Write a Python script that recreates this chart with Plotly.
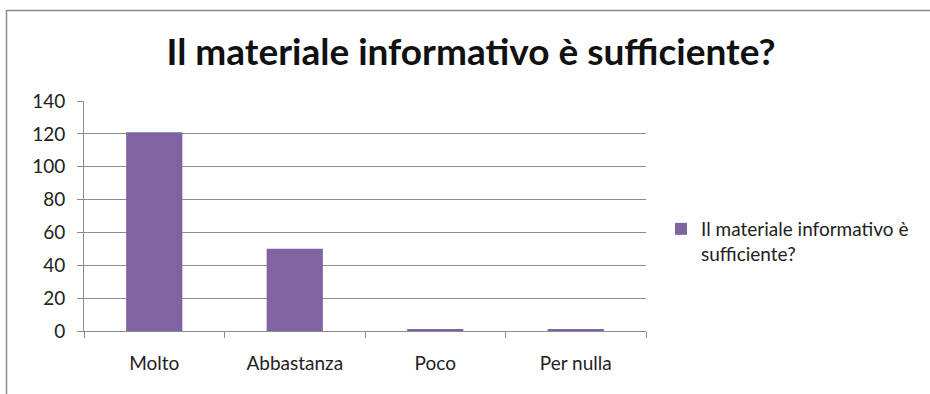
import plotly.graph_objects as go

categories = ["Molto", "Abbastanza", "Poco", "Per nulla"]
values = [121, 50, 1, 1]
series_name = "Il materiale informativo è<br>sufficiente?"
title_text = "Il materiale informativo è sufficiente?"
y_ticks = [0, 20, 40, 60, 80, 100, 120, 140]

purple = "#8064A2"
grid = "#8C8C8C"
font_family = "Lato, Open Sans, sans-serif"

W, H = 930, 394
L, R, T, B = 84, 284, 101, 63
pw, ph = W - L - R, H - T - B

fig = go.Figure(
    go.Bar(
        x=categories,
        y=values,
        name=series_name,
        marker=dict(color=purple, line=dict(width=0)),
        width=0.4,
        showlegend=True,
    )
)

# frame lines (top and left edges)
def px_x(p):
    return (p - L) / pw

def px_y(p):
    return (H - B - p) / ph

fig.add_shape(type="line", xref="paper", yref="paper",
              x0=px_x(6), x1=px_x(935), y0=px_y(10.5), y1=px_y(10.5),
              line=dict(color="#8A8A8A", width=1.5))
fig.add_shape(type="line", xref="paper", yref="paper",
              x0=px_x(6.5), x1=px_x(6.5), y0=px_y(10.5), y1=px_y(400),
              line=dict(color="#8A8A8A", width=1.5))

fig.update_layout(
    width=W, height=H,
    margin=dict(l=L, r=R, t=T, b=B, autoexpand=False),
    paper_bgcolor="white", plot_bgcolor="white",
    font=dict(family=font_family, size=19, color="#222222"),
    title=dict(text="<b>" + title_text + "</b>", x=471 / W, xref="container",
               xanchor="center", y=1 - 52 / H, yref="container", yanchor="middle",
               font=dict(size=37, color="#111111", family=font_family)),
    showlegend=True,
    legend=dict(x=px_x(661), y=px_y(210), xanchor="left", yanchor="top",
                valign="top", font=dict(size=19, color="#222222"),
                bgcolor="rgba(0,0,0,0)", itemclick=False),
    bargap=0.6,
)
fig.update_xaxes(
    type="category", showgrid=False, showline=True, linecolor=grid, linewidth=1,
    ticks="outside", ticklen=6, tickcolor=grid, tickson="boundaries",
    ticklabelstandoff=15, tickfont=dict(size=19),
)
fig.update_yaxes(
    range=[0, 140], tickvals=y_ticks, showgrid=True, gridcolor=grid, gridwidth=1,
    showline=True, linecolor=grid, linewidth=1, ticks="outside", ticklen=6,
    tickcolor=grid, zeroline=False, tickfont=dict(size=19), ticklabelstandoff=8,
)

fig.write_html("out.html")
